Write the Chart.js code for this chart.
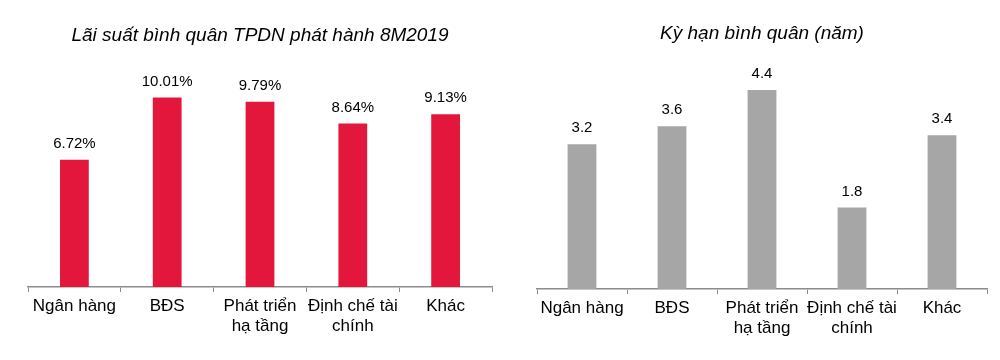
<!DOCTYPE html>
<html>
<head>
<meta charset="utf-8">
<script src="https://cdn.jsdelivr.net/npm/chart.js@4"></script>
<style>
  body { margin: 0; background: #fff; }
  .box { position: absolute; top: 0; width: 500px; height: 360px; }
</style>
</head>
<body>
<div class="box" style="left:0"><canvas id="rateChart"></canvas></div>
<div class="box" style="left:500px"><canvas id="termChart"></canvas></div>
<script>
const categories = ["Ngân hàng", "BĐS", ["Phát triển", "hạ tầng"], ["Định chế tài", "chính"], "Khác"];
const rateValues = [6.72, 10.01, 9.79, 8.64, 9.13];
const termValues = [3.2, 3.6, 4.4, 1.8, 3.4];
const rateTitle = "Lãi suất bình quân TPDN phát hành 8M2019";
const termTitle = "Kỳ hạn bình quân (năm)";

const FONT = "'Liberation Sans', Arial, sans-serif";

// draws the value above each bar
const valueLabels = {
  id: "valueLabels",
  afterDatasetsDraw(chart, args, opts) {
    const ctx = chart.ctx;
    const meta = chart.getDatasetMeta(0);
    ctx.save();
    ctx.font = "15px " + FONT;
    ctx.fillStyle = "#000";
    ctx.textAlign = "center";
    ctx.textBaseline = "middle";
    meta.data.forEach((bar, i) => {
      const v = chart.data.datasets[0].data[i];
      ctx.fillText(opts.format(v), bar.x, bar.y - 16);
    });
    ctx.restore();
  },
};

const makeChart = (id, values, title, color, max, pad, barPct, titlePad, axisHeight, format) => {
  return new Chart(document.getElementById(id), {
    type: "bar",
    data: {
      labels: categories,
      datasets: [{
        data: values,
        backgroundColor: color,
        barPercentage: barPct,
        categoryPercentage: 1,
      }],
    },
    options: {
      responsive: true,
      maintainAspectRatio: false,
      animation: false,
      layout: { padding: { left: pad[0], right: pad[1], top: 0, bottom: 0 } },
      plugins: {
        legend: { display: false },
        tooltip: { enabled: false },
        title: {
          display: true,
          text: title,
          color: "#000",
          font: { family: FONT, size: 19, style: "italic", weight: "normal", lineHeight: 1.2 },
          padding: titlePad,
        },
        valueLabels: { format },
      },
      scales: {
        x: {
          grid: { drawOnChartArea: false, drawTicks: true, tickLength: 5, tickColor: "#8c8c8c", offset: true },
          border: { display: true, color: "#8c8c8c", width: 1.5 },
          ticks: {
            color: "#000",
            font: { family: FONT, size: 17, lineHeight: 1.2 },
            padding: 4,
            maxRotation: 0,
            autoSkip: false,
          },
          afterFit: (s) => { s.height = axisHeight; },
        },
        y: { display: false, min: 0, max: max },
      },
    },
    plugins: [valueLabels],
  });
};

makeChart("rateChart", rateValues, rateTitle, "#e2173b", 12, [28, 8], 0.31,
  { top: 24, bottom: 13 }, 73, (v) => v.toFixed(2) + "%");
makeChart("termChart", termValues, termTitle, "#a6a6a6", 5, [37, 13], 0.32,
  { top: 22, bottom: 18 }, 71, (v) => v.toFixed(1));
</script>
</body>
</html>
